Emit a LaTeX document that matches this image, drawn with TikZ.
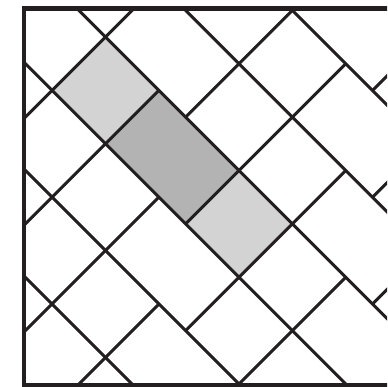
\documentclass[tikz,border=0pt]{standalone}
\usepackage{tikz}
\definecolor{tileline}{HTML}{231F20}
\definecolor{tilelight}{HTML}{D3D3D3}
\definecolor{tiledark}{HTML}{B3B3B3}

\begin{document}
\begin{tikzpicture}[x=1pt,y=1pt,
  joint/.style={draw=tileline,line width=3pt},
  framebox/.style={draw=tileline,line width=4.5pt},
  lightstone/.style={fill=tilelight},
  darkstone/.style={fill=tiledark}]
\useasboundingbox (0,0) rectangle (387,387);
\clip (0,0) rectangle (387,387);
\coordinate (tl) at (24,378.5);
\coordinate (br) at (400,1.7);
\begin{scope}
\clip (tl) rectangle (br);
% diagonal grid: first axis down-right, second axis up-right
\begin{scope}[shift={(105.5pt,350pt)},x={(26.7pt,-26.7pt)},y={(26.7pt,26.7pt)}]
  \fill[lightstone] (0,-2) -- (2,-2) -- (2,0) -- (0,0) -- cycle;
  \fill[darkstone] (2,-2) -- (5,-2) -- (5,0) -- (2,0) -- cycle;
  \fill[lightstone] (5,-2) -- (7,-2) -- (7,0) -- (5,0) -- cycle;
  % long rows
  \foreach \v in {-6,-4,...,4}
    \draw[joint] (-10,\v) -- (20,\v);
  % cross joints
  \foreach \u/\a/\b in {0/3/-5, 2/0/-8, 3/0/6, 4/-2/-10, 5/-2/4, 6/4/8,
      6/-4/-10, 7/2/-4, 8/2/6, 9/0/-8, 10/0/4}
    \draw[joint] (\u,\a) -- (\u,\b);
\end{scope}
\end{scope}
\draw[framebox] (tl) rectangle (br);
\end{tikzpicture}
\end{document}
